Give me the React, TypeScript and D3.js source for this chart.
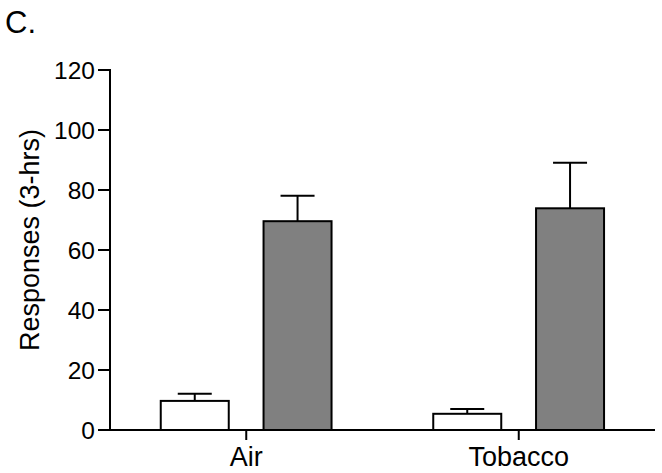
import React from "react";
import * as d3 from "d3";

const categories = ["Air", "Tobacco"];
const seriesNames = ["Control", "Treated"];
const means = [
  [9.7, 69.6],
  [5.4, 73.9],
];
const sems = [
  [2.4, 8.5],
  [1.6, 15.2],
];
const yTicks = [0, 20, 40, 60, 80, 100, 120];
const fills = ["#ffffff", "#808080"];

export default function App() {
  const W = 662, H = 473;
  const x = d3.scaleBand<string>().domain(categories).range([110, 655]).padding(0);
  const y = d3.scaleLinear().domain([0, 120]).range([430, 70]);
  const barW = 68;
  const offsets = [-85.5, 17.3];
  const font = "Arial, 'Liberation Sans', sans-serif";
  return (
    <svg width={W} height={H} style={{ position: "absolute", left: 0, top: 0, background: "#fff" }}>
      <text x={5} y={33} fontSize={31} fontFamily={font}>C.</text>
      <text transform={`translate(39,240) rotate(-90)`} textAnchor="middle" fontSize={27} fontFamily={font}>Responses (3-hrs)</text>
      {categories.map((c, i) => {
        const cx = x(c)! + x.bandwidth() / 2;
        return (
          <g key={c}>
            {seriesNames.map((s, j) => {
              const x0 = cx + offsets[j];
              const top = y(means[i][j]);
              const capY = y(means[i][j] + sems[i][j]);
              const mid = x0 + barW / 2;
              return (
                <g key={s}>
                  <line x1={mid} x2={mid} y1={top} y2={capY} stroke="#000" strokeWidth={2} />
                  <line x1={mid - barW / 4} x2={mid + barW / 4} y1={capY} y2={capY} stroke="#000" strokeWidth={2} />
                  <rect x={x0} y={top} width={barW} height={y(0) - top} fill={fills[j]} stroke="#000" strokeWidth={2} />
                </g>
              );
            })}
            <line x1={cx} x2={cx} y1={430} y2={440} stroke="#000" strokeWidth={2} />
            <text x={cx} y={466} textAnchor="middle" fontSize={27} fontFamily={font}>{c}</text>
          </g>
        );
      })}
      <line x1={110} x2={110} y1={69} y2={431} stroke="#000" strokeWidth={2} />
      <line x1={110} x2={655} y1={430} y2={430} stroke="#000" strokeWidth={2} />
      {yTicks.map((t) => (
        <g key={t}>
          <line x1={98} x2={110} y1={y(t)} y2={y(t)} stroke="#000" strokeWidth={2} />
          <text x={95} y={y(t) + 9} textAnchor="end" fontSize={24.5} fontFamily={font}>{t}</text>
        </g>
      ))}
    </svg>
  );
}
